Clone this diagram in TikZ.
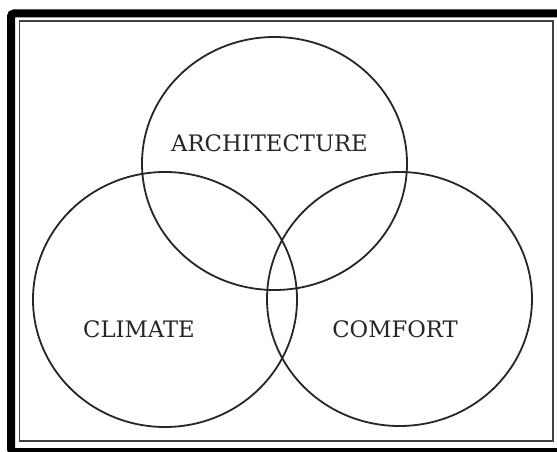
\documentclass[tikz,border=0pt]{standalone}
\usepackage{fontspec}
\setmainfont{DejaVu Serif}
\begin{document}
\begin{tikzpicture}[x=1pt,y=-1pt,
  venn/.style={draw=black!85, line width=1.8pt},
  lbl/.style={font=\fontsize{22.7}{26}\selectfont, text=black!85, inner sep=0pt, anchor=center}]
\useasboundingbox (0,0) rectangle (557,452);
\fill[white] (0,0) rectangle (557,452);
% frames
\draw[line width=8pt, rounded corners=3pt] (11,13.5) rectangle (561,452);
\draw[line width=1.6pt, draw=black!75] (19.5,21) rectangle (553,441);
% circles
\draw[venn] (274.5,163.5) ellipse [x radius=132.5, y radius=126.5];
\draw[venn] (165,299.5) ellipse [x radius=132, y radius=127.5];
\draw[venn] (399.5,299) ellipse [x radius=132.5, y radius=127];
% labels
\node[lbl] (arch) at (269.5,143.5) {ARCHITECTURE};
\node[lbl] (clim) at (139,329.5) {CLIMATE};
\node[lbl] (comf) at (395,329.5) {COMFORT};
\end{tikzpicture}
\end{document}
